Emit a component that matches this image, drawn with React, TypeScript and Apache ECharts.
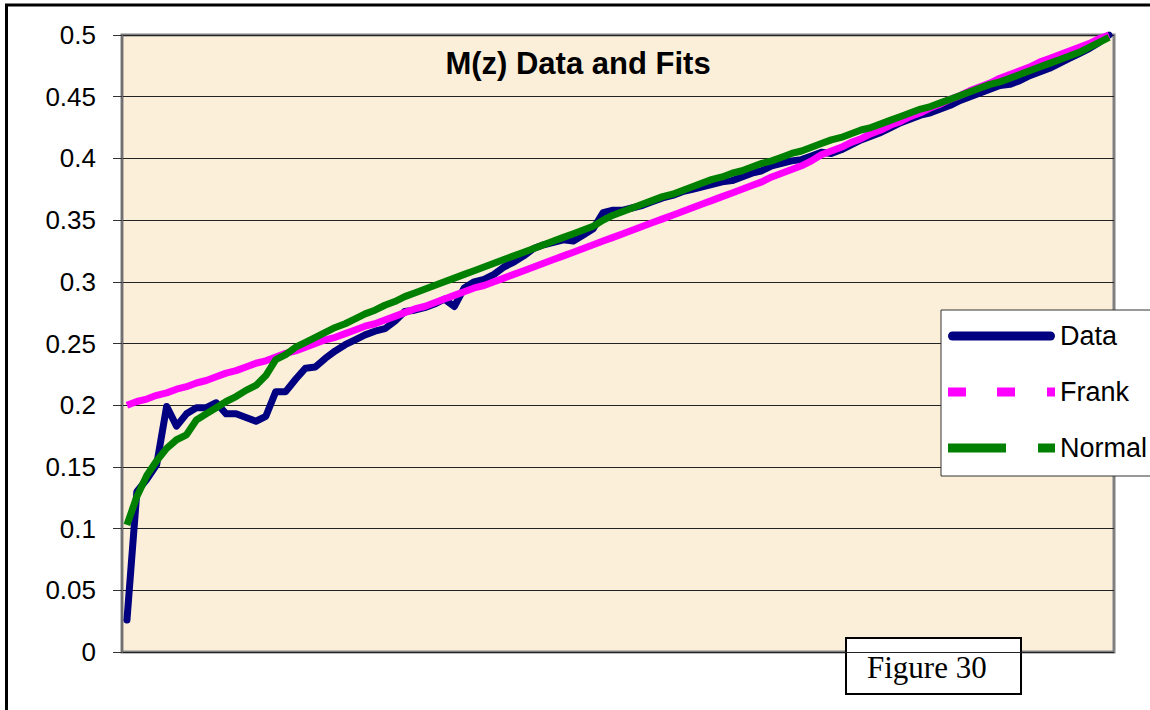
import React, { useEffect, useRef } from "react";
import * as echarts from "echarts";

const TITLE = "M(z) Data and Fits";
const FIGURE_LABEL = "Figure 30";
const SERIES_NAMES = ["Data", "Frank", "Normal"];
const SERIES_COLORS = ["#000080", "#FF00FF", "#008000"];
const Y_MIN = 0;
const Y_MAX = 0.5;
const Y_STEP = 0.05;

const dataValues = [
  0.026, 0.13, 0.14, 0.152, 0.199, 0.183, 0.193, 0.198, 0.198, 0.202,
  0.193, 0.193, 0.19, 0.187, 0.191, 0.211, 0.211, 0.221, 0.23, 0.231,
  0.238, 0.244, 0.249, 0.253, 0.257, 0.26, 0.262, 0.268, 0.276, 0.277,
  0.279, 0.282, 0.286, 0.28, 0.295, 0.3, 0.302, 0.306, 0.312, 0.316,
  0.321, 0.327, 0.33, 0.332, 0.334, 0.333, 0.338, 0.343, 0.356, 0.358,
  0.358, 0.36, 0.362, 0.365, 0.368, 0.37, 0.373, 0.375, 0.377, 0.379,
  0.381, 0.382, 0.385, 0.388, 0.39, 0.394, 0.396, 0.398, 0.399, 0.402,
  0.405, 0.404, 0.407, 0.411, 0.415, 0.418, 0.421, 0.425, 0.429, 0.432,
  0.435, 0.437, 0.44, 0.443, 0.447, 0.45, 0.453, 0.456, 0.459, 0.46,
  0.463, 0.467, 0.47, 0.473, 0.477, 0.481, 0.485, 0.489, 0.494, 0.5,
];

const frankValues = [
  0.2, 0.203, 0.205, 0.208, 0.21, 0.213, 0.215, 0.218, 0.22, 0.223,
  0.226, 0.228, 0.231, 0.234, 0.236, 0.239, 0.242, 0.244, 0.247, 0.25,
  0.253, 0.255, 0.258, 0.261, 0.264, 0.266, 0.269, 0.272, 0.275, 0.278,
  0.28, 0.283, 0.286, 0.289, 0.292, 0.295, 0.297, 0.3, 0.303, 0.306,
  0.309, 0.312, 0.315, 0.318, 0.321, 0.324, 0.327, 0.33, 0.333, 0.336,
  0.339, 0.342, 0.345, 0.348, 0.351, 0.354, 0.357, 0.36, 0.363, 0.366,
  0.369, 0.372, 0.375, 0.378, 0.381, 0.385, 0.388, 0.391, 0.394, 0.398,
  0.403, 0.406, 0.409, 0.413, 0.416, 0.42, 0.423, 0.427, 0.43, 0.434,
  0.437, 0.441, 0.444, 0.448, 0.451, 0.455, 0.458, 0.461, 0.465, 0.468,
  0.471, 0.474, 0.478, 0.481, 0.484, 0.487, 0.49, 0.493, 0.497, 0.5,
];

const normalValues = [
  0.103, 0.126, 0.143, 0.155, 0.165, 0.172, 0.176, 0.188, 0.193, 0.198,
  0.203, 0.207, 0.212, 0.216, 0.224, 0.237, 0.241, 0.247, 0.251, 0.255,
  0.259, 0.263, 0.266, 0.27, 0.274, 0.277, 0.281, 0.284, 0.288, 0.291,
  0.294, 0.297, 0.3, 0.303, 0.306, 0.309, 0.312, 0.315, 0.318, 0.321,
  0.324, 0.327, 0.33, 0.333, 0.336, 0.339, 0.342, 0.345, 0.35, 0.354,
  0.357, 0.36, 0.363, 0.366, 0.369, 0.371, 0.374, 0.377, 0.38, 0.383,
  0.385, 0.388, 0.39, 0.393, 0.396, 0.398, 0.401, 0.404, 0.406, 0.409,
  0.412, 0.415, 0.417, 0.42, 0.423, 0.425, 0.428, 0.431, 0.434, 0.437,
  0.44, 0.442, 0.445, 0.448, 0.451, 0.454, 0.457, 0.46, 0.462, 0.465,
  0.468, 0.471, 0.474, 0.477, 0.48, 0.483, 0.486, 0.49, 0.494, 0.498,
];

const categories = dataValues.map((_, i) => String(i + 1));

const ICONS = [
  "path://M4.5,0h98a4.5,4.5 0 0 1 0,9h-98a4.5,4.5 0 0 1 0,-9z",
  "path://M0,0h18v9h-18z M49,0h18v9h-18z M99,0h8v9h-8z",
  "path://M0,0h58v9h-58z M90,0h17v9h-17z",
];

export default function App() {
  const ref = useRef<HTMLDivElement>(null);

  useEffect(() => {
    if (!ref.current) return;
    const chart = echarts.init(ref.current, null, { renderer: "svg" });
    const seriesValues = [dataValues, frankValues, normalValues];
    chart.setOption({
      animation: false,
      backgroundColor: "#ffffff",
      grid: {
        left: 122,
        top: 35,
        width: 992,
        height: 617,
        show: true,
        backgroundColor: "#FBEFDA",
        borderColor: "#808080",
        borderWidth: 3,
      },
      xAxis: {
        type: "category",
        data: categories,
        boundaryGap: true,
        axisLine: { show: false },
        axisTick: { show: false },
        axisLabel: { show: false },
        splitLine: { show: false },
      },
      yAxis: {
        type: "value",
        min: Y_MIN,
        max: Y_MAX,
        interval: Y_STEP,
        axisLine: { show: true, lineStyle: { color: "#707070", width: 2 } },
        axisTick: { show: true, length: 9, lineStyle: { color: "#333", width: 1 } },
        axisLabel: {
          color: "#000",
          fontSize: 26,
          fontFamily: "Liberation Sans, Arial, sans-serif",
          margin: 26,
          formatter: (v: number) => String(Number(v.toFixed(2))),
        },
        splitLine: { show: true, lineStyle: { color: "#222", width: 1 } },
      },
      legend: {
        orient: "vertical",
        left: 941,
        top: 310,
        align: "left",
        padding: [11, 10, 13, 7],
        itemGap: 26,
        itemWidth: 107,
        itemHeight: 9,
        backgroundColor: "#ffffff",
        borderColor: "#333",
        borderWidth: 1,
        borderRadius: 0,
        textStyle: {
          color: "#000",
          fontSize: 27,
          lineHeight: 30,
          fontFamily: "Liberation Sans, Arial, sans-serif",
        },
        data: SERIES_NAMES.map((n, i) => ({ name: n, icon: ICONS[i] })),
      },
      series: SERIES_NAMES.map((name, i) => ({
        name,
        type: "line",
        data: seriesValues[i],
        symbol: "none",
        color: SERIES_COLORS[i],
        itemStyle: { color: SERIES_COLORS[i] },
        lineStyle: {
          color: SERIES_COLORS[i],
          width: 7,
          join: i === 0 ? "round" : "bevel",
          cap: i === 0 ? "round" : "butt",
        },
        z: 2 + i,
      })),
      graphic: [
        {
          type: "rect",
          shape: { x: 6.5, y: 5, width: 1200, height: 800 },
          style: { fill: "none", stroke: "#000", lineWidth: 3 },
          z: 100,
        },
        {
          type: "text",
          x: 578,
          y: 63,
          style: {
            text: TITLE,
            fill: "#000",
            font: "bold 31px 'Liberation Sans', Arial, sans-serif",
            textAlign: "center",
            textVerticalAlign: "middle",
          },
          z: 100,
        },
        {
          type: "group",
          z: 100,
          children: [
            {
              type: "rect",
              shape: { x: 846, y: 638, width: 175, height: 56 },
              style: { fill: "#fff", stroke: "#000", lineWidth: 2 },
            },
            {
              type: "text",
              x: 867,
              y: 667,
              style: {
                text: FIGURE_LABEL,
                fill: "#000",
                font: "31px 'Liberation Serif', 'DejaVu Serif', serif",
                textAlign: "left",
                textVerticalAlign: "middle",
              },
            },
          ],
        },
      ],
    });
    return () => chart.dispose();
  }, []);

  return (
    <div
      ref={ref}
      style={{ position: "absolute", left: 0, top: 0, width: 1150, height: 710 }}
    />
  );
}
